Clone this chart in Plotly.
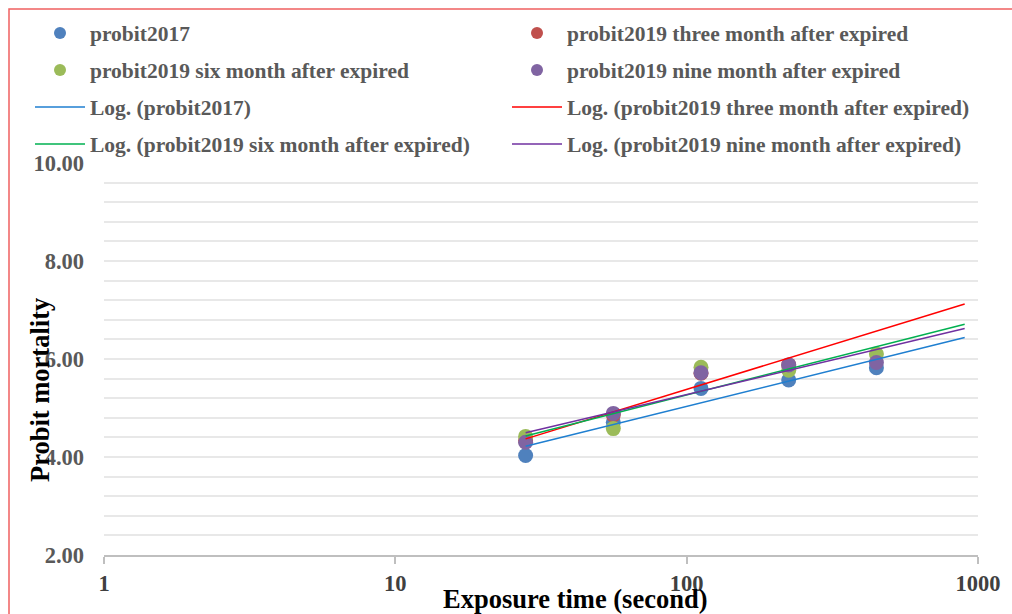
import numpy as np
import plotly.graph_objects as go

# Exposure times (s) and probit mortality values
exposure = [28, 56, 112, 224, 448]
probit2017 = [4.03, 4.71, 5.40, 5.57, 5.82]
probit2019_3m = [4.33, 4.86, 5.71, 5.88, None]
probit2019_6m = [4.42, 4.58, 5.83, 5.77, 6.10]
probit2019_9m = [4.30, 4.89, 5.72, 5.88, 5.93]

names = [
    "probit2017",
    "probit2019 three month after expired",
    "probit2019 six month after expired",
    "probit2019 nine month after expired",
]
series = [probit2017, probit2019_3m, probit2019_6m, probit2019_9m]
marker_colors = ["#4F81BD", "#C0504D", "#9BBB59", "#8064A2"]
line_colors = ["#1F7FD0", "#FF0000", "#00B050", "#7030A0"]
# legend rows: two entries per row
marker_legends = ["legend", "legend", "legend2", "legend2"]
line_legends = ["legend3", "legend3", "legend4", "legend4"]

trend_x_end = 900
font_family = "Liberation Serif"

fig = go.Figure()

for name, ys, col, lg in zip(names, series, marker_colors, marker_legends):
    fig.add_trace(go.Scatter(
        x=exposure, y=ys, mode="markers", name=name, legend=lg,
        marker=dict(color=col, size=15, line=dict(width=0)),
    ))

# logarithmic trendlines: y = a*ln(x) + b, fitted to each series
for name, ys, col, lg in zip(names, series, line_colors, line_legends):
    pts = [(x, y) for x, y in zip(exposure, ys) if y is not None]
    xs = np.array([p[0] for p in pts], dtype=float)
    yv = np.array([p[1] for p in pts], dtype=float)
    a, b = np.polyfit(np.log(xs), yv, 1)
    xt = np.geomspace(xs[0], trend_x_end, 50)
    fig.add_trace(go.Scatter(
        x=xt, y=a * np.log(xt) + b, mode="lines", name=f"Log. ({name})",
        legend=lg, line=dict(color=col, width=1.5), hoverinfo="skip",
    ))

# plot area geometry (pixels)
W, H = 1012, 614
L, R, T, B = 104, 978, 163, 555
pw, ph = R - L, B - T


def px(x):
    return (x - L) / pw


def py(y):
    return (B - y) / ph


legend_font = dict(family=font_family, size=21.5, color="#595959", weight="bold")
row_centers = [33, 70, 107, 144]
legend_cfg = {}
for i, (key, yc) in enumerate(zip(["legend", "legend2", "legend3", "legend4"], row_centers)):
    legend_cfg[key] = dict(
        orientation="h", x=px(30), xanchor="left", y=py(yc), yanchor="middle",
        entrywidth=412, entrywidthmode="pixels", itemwidth=50,
        itemsizing="constant" if i < 2 else "trace",
        font=legend_font, bgcolor="rgba(0,0,0,0)", traceorder="normal",
    )

fig.update_layout(
    width=W, height=H,
    margin=dict(l=L, r=W - R, t=T, b=H - B, autoexpand=False),
    paper_bgcolor="white", plot_bgcolor="white",
    font=dict(family=font_family),
    **legend_cfg,
    xaxis=dict(
        type="log", range=[0, 3],
        tickvals=[1, 10, 100, 1000], ticktext=["1", "10", "100", "1000"],
        showgrid=False, zeroline=False,
        showline=True, linecolor="#BFBFBF", linewidth=1.5,
        ticks="outside", ticklen=7, tickcolor="#BFBFBF", tickwidth=1.5,
        tickfont=dict(family=font_family, size=22.5, color="#404040", weight="bold"),
    ),
    yaxis=dict(
        range=[2, 10], dtick=2, tick0=2, tickformat=".2f",
        showgrid=True, gridcolor="#E8E8E8", gridwidth=1.5,
        minor=dict(dtick=0.4, showgrid=True, gridcolor="#E8E8E8", gridwidth=1.5),
        zeroline=False, showline=False, ticks="",
        ticklabelstandoff=19,
        tickfont=dict(family=font_family, size=22.5, color="#595959", weight="bold"),
    ),
    annotations=[
        dict(text="<b>Probit mortality</b>", xref="paper", yref="paper",
             x=px(40), y=py(390), xanchor="center", yanchor="middle",
             textangle=-90, showarrow=False,
             font=dict(family=font_family, size=26.5, color="black")),
        dict(text="<b>Exposure time (second)</b>", xref="paper", yref="paper",
             x=px(575), y=py(599), xanchor="center", yanchor="middle",
             showarrow=False,
             font=dict(family=font_family, size=26.5, color="black")),
    ],
    shapes=[
        dict(type="rect", xref="paper", yref="paper",
             x0=px(9), x1=px(1030), y0=py(640), y1=py(9),
             line=dict(color="#F06060", width=1.5), layer="below"),
    ],
)

fig.write_html("out.html")
